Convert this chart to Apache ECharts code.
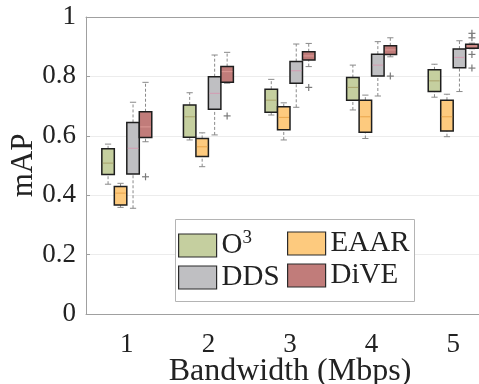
<!DOCTYPE html>
<html>
<head>
<meta charset="utf-8">
<script src="https://cdn.jsdelivr.net/npm/echarts@6/dist/echarts.min.js"></script>
<style>
  html, body { margin: 0; padding: 0; background: #fff; }
  #chart { width: 479px; height: 384px; }
</style>
</head>
<body>
<div id="chart"></div>
<script>
// Bandwidth categories (Mbps)
const bandwidths = ["1", "2", "3", "4", "5"];
const yTicks = [0, 0.2, 0.4, 0.6, 0.8, 1];

// box stats per bandwidth: [lower whisker, q1, median, q3, upper whisker]
const o3Stats = [
  [0.437, 0.470, 0.508, 0.556, 0.572],
  [0.586, 0.595, 0.664, 0.704, 0.745],
  [0.670, 0.679, 0.720, 0.757, 0.790],
  [0.687, 0.720, 0.763, 0.796, 0.838],
  [0.730, 0.749, 0.785, 0.822, 0.841],
];
const eaarStats = [
  [0.359, 0.367, 0.407, 0.429, 0.440],
  [0.496, 0.530, 0.563, 0.591, 0.610],
  [0.586, 0.620, 0.662, 0.698, 0.711],
  [0.591, 0.612, 0.664, 0.720, 0.737],
  [0.597, 0.616, 0.664, 0.720, 0.740],
];
const ddsStats = [
  [0.356, 0.471, 0.558, 0.645, 0.713],
  [0.603, 0.689, 0.743, 0.799, 0.872],
  [0.696, 0.777, 0.819, 0.850, 0.909],
  [0.734, 0.801, 0.838, 0.875, 0.917],
  [0.749, 0.829, 0.864, 0.892, 0.920],
];
const diveStats = [
  [0.580, 0.594, 0.630, 0.681, 0.780],
  [0.777, 0.780, 0.816, 0.833, 0.881],
  [0.833, 0.855, 0.869, 0.883, 0.911],
  [0.866, 0.874, 0.889, 0.903, 0.930],
  [0.893, 0.895, 0.902, 0.908, 0.912],
];
// outliers of DiVE: [bandwidth index, mAP]
const diveOutliers = [
  [0, 0.462], [1, 0.667], [2, 0.763], [3, 0.801],
  [4, 0.945], [4, 0.930], [4, 0.874], [4, 0.828],
];

const FONT = "Liberation Serif";
const BOX_FRAC = 0.153; // box width as part of one category band

const chart = echarts.init(document.getElementById("chart"));

// draws one box plot, slot k of 4 inside the category band
function boxRenderer(k, fill, medColor) {
  return function (params, api) {
    const xi = api.value(0);
    const band = api.size([1, 0])[0];
    const w = band * BOX_FRAC;
    const cx = api.coord([xi, 0])[0] + (k - 1.5) * w;
    const y = [1, 2, 3, 4, 5].map((d) => api.coord([xi, api.value(d)])[1]);
    const capW = w * 0.25;
    const whisker = { stroke: "#8a8a8a", lineWidth: 1, lineDash: [3, 2] };
    const cap = { stroke: "#8a8a8a", lineWidth: 1 };
    return {
      type: "group",
      children: [
        { type: "line", shape: { x1: cx, y1: y[0], x2: cx, y2: y[1] }, style: whisker },
        { type: "line", shape: { x1: cx, y1: y[3], x2: cx, y2: y[4] }, style: whisker },
        { type: "line", shape: { x1: cx - capW, y1: y[0], x2: cx + capW, y2: y[0] }, style: cap },
        { type: "line", shape: { x1: cx - capW, y1: y[4], x2: cx + capW, y2: y[4] }, style: cap },
        {
          type: "rect",
          shape: { x: cx - w / 2, y: y[3], width: w, height: y[1] - y[3] },
          style: { fill: fill, stroke: "#1e1e1e", lineWidth: 1.5 },
        },
        { type: "line", shape: { x1: cx - w / 2 + 1, y1: y[2], x2: cx + w / 2 - 1, y2: y[2] }, style: { stroke: medColor, lineWidth: 1 } },
      ],
    };
  };
}

function outlierRenderer(k) {
  return function (params, api) {
    const xi = api.value(0);
    const band = api.size([1, 0])[0];
    const w = band * BOX_FRAC;
    const p = api.coord([xi, api.value(1)]);
    const cx = p[0] + (k - 1.5) * w;
    const s = 3.5;
    const st = { stroke: "#7a7a7a", lineWidth: 1.2 };
    return {
      type: "group",
      children: [
        { type: "line", shape: { x1: cx - s, y1: p[1], x2: cx + s, y2: p[1] }, style: st },
        { type: "line", shape: { x1: cx, y1: p[1] - s, x2: cx, y2: p[1] + s }, style: st },
      ],
    };
  };
}

const methods = [
  { name: "O3", stats: o3Stats, fill: "#c5cf9f", med: "#a9a36a" },
  { name: "EAAR", stats: eaarStats, fill: "#fdca7e", med: "#e9a54c" },
  { name: "DDS", stats: ddsStats, fill: "#bfbfc2", med: "#d49cb2" },
  { name: "DiVE", stats: diveStats, fill: "#c17c7a", med: "#dc9a96" },
];

const series = methods.map((m, k) => ({
  name: m.name,
  type: "custom",
  renderItem: boxRenderer(k, m.fill, m.med),
  itemStyle: { color: m.fill },
  encode: { x: 0, y: [1, 2, 3, 4, 5] },
  data: m.stats.map((s, i) => [i, ...s]),
  z: 3,
}));
series.push({
  name: "DiVE outliers",
  type: "custom",
  renderItem: outlierRenderer(3),
  encode: { x: 0, y: 1 },
  data: diveOutliers,
  z: 3,
});

const legendText = {
  fontFamily: FONT,
  fontSize: 29,
  color: "#222",
  rich: {
    b: { fontFamily: FONT, fontSize: 29, color: "#222" },
    s: { fontFamily: FONT, fontSize: 19, color: "#222", padding: [0, 0, 14, 0] },
  },
};
const legendBase = {
  orient: "vertical",
  top: 229,
  itemWidth: 38,
  itemHeight: 23,
  itemGap: 3,
  icon: "rect",
  z: 11,
  padding: 0,
  textStyle: legendText,
  itemStyle: { borderColor: "#2a2a2a", borderWidth: 1.2 },
  formatter: (name) => (name === "O3" ? "{b|O}{s|3}" : name),
};

const option = {
  animation: false,
  backgroundColor: "#fff",
  grid: { left: 86, top: 17, width: 408, height: 297, outerBoundsMode: "none" },
  graphic: [
    {
      type: "rect",
      left: 175,
      top: 219,
      z: 10,
      shape: { width: 239, height: 82 },
      style: { fill: "#fff", stroke: "#b4b4b4", lineWidth: 1 },
    },
  ],
  legend: [
    Object.assign({}, legendBase, { left: 178, data: ["O3", "DDS"] }),
    Object.assign({}, legendBase, { left: 287, data: ["EAAR", "DiVE"] }),
  ],
  xAxis: [
    {
      type: "category",
      data: bandwidths,
      boundaryGap: true,
      name: "Bandwidth (Mbps)",
      nameLocation: "middle",
      nameGap: 42,
      nameMoveOverlap: false,
      nameTextStyle: { fontFamily: FONT, fontSize: 32, color: "#222" },
      axisLine: { lineStyle: { color: "#a0a0a0", width: 1 } },
      axisTick: { inside: true, alignWithLabel: true, length: 4, lineStyle: { color: "#a0a0a0" } },
      axisLabel: { fontFamily: FONT, fontSize: 27, color: "#222", margin: 17 },
      splitLine: { show: false },
    },
    {
      type: "category",
      data: bandwidths,
      position: "top",
      boundaryGap: true,
      axisLine: { lineStyle: { color: "#a0a0a0", width: 1 } },
      axisTick: { inside: true, alignWithLabel: true, length: 4, lineStyle: { color: "#a0a0a0" } },
      axisLabel: { show: false },
    },
  ],
  yAxis: {
    type: "value",
    min: yTicks[0],
    max: yTicks[yTicks.length - 1],
    interval: 0.2,
    name: "mAP",
    nameLocation: "middle",
    nameGap: 47,
    nameMoveOverlap: false,
    nameTextStyle: { fontFamily: FONT, fontSize: 31, color: "#222" },
    axisLine: { show: true, lineStyle: { color: "#a0a0a0", width: 1 } },
    axisTick: { show: true, inside: true, length: 4, lineStyle: { color: "#a0a0a0" } },
    axisLabel: { fontFamily: FONT, fontSize: 27, color: "#222", margin: 10 },
    splitLine: { show: true, lineStyle: { color: "#ececec", width: 1 } },
  },
  series: series,
};

chart.setOption(option);
</script>
</body>
</html>
